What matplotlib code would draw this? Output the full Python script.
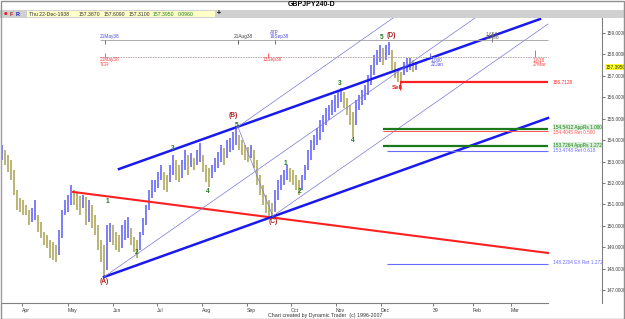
import numpy as np
import matplotlib
matplotlib.use("Agg")
import matplotlib.pyplot as plt
from matplotlib.patches import Rectangle

plt.rcParams["font.family"] = ["Liberation Sans", "DejaVu Sans"]
NARROW = ["Liberation Sans Narrow", "Liberation Sans", "DejaVu Sans"]

# price bars (slot position, high, low)
bar_x = [2, 5, 8, 11, 14, 17, 20, 23, 26, 29, 32, 35, 38, 41, 44, 47, 50, 53, 56, 59,
         62, 65, 68, 71, 74, 77, 80, 83, 86, 89, 92, 95, 98, 101, 104, 107, 110, 113, 116, 119,
         122, 125, 128, 131, 134, 137, 140, 143, 146, 149, 152, 155, 158, 161, 164, 167, 170, 173, 176, 179,
         182, 185, 188, 191, 194, 197, 200, 203, 206, 209, 212, 215, 218, 221, 224, 227, 230, 233, 236, 239,
         242, 245, 248, 251, 254, 257, 260, 263, 266, 269, 272, 275, 278, 281, 284, 287, 290, 293, 296, 299,
         302, 305, 308, 311, 314, 317, 320, 323, 326, 329, 332, 335, 338, 341, 344, 347, 350, 353, 356, 359,
         362, 365, 368, 371, 374, 377, 380, 383, 386, 389, 392, 395, 398, 401, 404, 407, 410, 413, 416]
bar_hi = [153.77, 153.54, 153.30, 153.07, 152.60, 151.67, 151.30, 151.20, 150.97, 150.74, 150.83, 151.20, 150.50, 150.18, 149.71, 149.57, 149.34, 149.24, 149.10, 149.80,
          150.74, 151.20, 151.44, 151.90, 151.67, 151.53, 151.39, 151.44, 151.34, 151.20, 150.97, 150.50, 150.04, 149.34, 149.10, 150.04, 150.13, 150.04, 149.71, 149.57,
          150.04, 150.27, 150.41, 149.90, 149.48, 149.34, 149.71, 150.36, 150.97, 151.67, 152.14, 152.14, 152.51, 152.84, 152.51, 152.37, 152.84, 153.30, 153.07, 152.84,
          153.07, 153.54, 153.30, 153.40, 153.16, 153.54, 153.86, 153.30, 152.84, 152.70, 152.84, 153.16, 153.44, 153.77, 153.63, 154.00, 154.10, 154.38, 154.61, 154.24,
          154.00, 153.77, 153.68, 153.77, 153.54, 153.07, 152.37, 151.90, 151.44, 151.20, 151.06, 151.67, 152.14, 152.37, 152.60, 152.84, 152.70, 152.60, 152.37, 152.14,
          152.37, 152.84, 153.54, 154.00, 154.24, 154.56, 154.94, 155.17, 155.50, 155.64, 155.87, 156.11, 156.34, 156.43, 156.25, 155.97, 155.64, 155.31, 155.87, 156.11,
          156.34, 156.57, 157.04, 157.51, 157.97, 158.21, 158.44, 158.30, 158.44, 158.58, 158.21, 157.65, 157.27, 157.18, 157.65, 157.83, 157.83, 157.74, 157.65]
bar_lo = [153.07, 152.84, 152.51, 152.14, 151.44, 150.74, 150.64, 150.50, 150.50, 150.04, 150.18, 150.27, 149.71, 149.43, 149.10, 148.96, 148.49, 148.40, 148.31, 148.63,
          149.43, 150.50, 150.64, 150.97, 150.97, 150.74, 150.50, 150.83, 150.04, 150.18, 149.90, 149.57, 148.87, 148.31, 147.61, 147.93, 149.24, 149.10, 148.87, 148.77,
          148.96, 149.34, 149.43, 149.10, 148.77, 148.49, 148.87, 149.57, 150.04, 150.74, 151.30, 151.58, 151.76, 152.14, 151.67, 151.58, 152.04, 152.37, 152.14, 152.04,
          152.23, 152.60, 152.37, 152.74, 152.60, 152.84, 152.98, 152.51, 152.04, 151.81, 152.23, 152.51, 152.70, 152.98, 152.84, 153.16, 153.44, 153.54, 153.77, 153.54,
          153.30, 153.07, 152.98, 153.16, 152.70, 151.90, 151.44, 150.97, 150.60, 150.46, 150.46, 150.64, 151.20, 151.67, 151.90, 152.14, 152.04, 151.90, 151.67, 151.44,
          151.67, 152.14, 152.60, 153.07, 153.54, 153.77, 154.00, 154.38, 154.70, 154.94, 155.17, 155.31, 155.50, 155.78, 155.50, 155.17, 154.70, 154.14, 154.70, 155.40,
          155.64, 155.87, 156.11, 156.57, 157.04, 157.51, 157.65, 157.51, 157.74, 157.97, 157.27, 156.90, 156.71, 156.62, 157.04, 157.18, 157.27, 157.18, 157.27]

# trend lines (x0, y0, x1, y1)
red_trend = [73, 151.58, 548, 148.73]
blue_lower = [104, 147.61, 548, 155.03]
blue_upper = [119, 152.65, 540, 159.65]
channel_lines = [[104, 147.61, 475, 159.70],
                 [236, 154.56, 393, 159.70],
                 [273, 150.46, 548, 159.42],
                 [238, 154.61, 273, 150.41]]

# horizontal price levels
levels = [156.7128, 154.5412, 154.4045, 153.7264, 153.4748, 148.2204]
level_start = [400, 383, 383, 383, 387, 387]
level_labels = ["156.7128", "154.5412 AppRs 1.000", "154.4045 Ret 0.500",
                "153.7264 AppRs 1.272", "153.4748 Ret 0.618", "148.2204 EX Ret 1.272"]
level_colors = ["#ff2020", "#1a7a1a", "#ff5050", "#1a7a1a", "#6a6aff", "#6a6aff"]
level_widths = [1.6, 1.6, 0.7, 1.6, 0.8, 0.8]
label_row = [82, 127, 132.5, 145, 150.5, 263]

# wave counts (x, price, text, colour)
wave_x = [104, 107, 137, 173, 208, 237, 233, 285, 300, 273, 340, 353, 382, 391]
wave_y = [147.38, 151.12, 148.73, 153.63, 151.58, 154.66, 155.17, 152.93, 151.58, 150.18, 156.66, 154.00, 158.81, 158.90]
wave_txt = ["(A)", "1", "2", "3", "4", "5", "(B)", "1", "2", "(C)", "3", "4", "5", "(D)"]
wave_col = ["#b02020", "#1f7a1f", "#1f7a1f", "#1f7a1f", "#1f7a1f", "#1f7a1f", "#b02020",
            "#1f7a1f", "#1f7a1f", "#b02020", "#1f7a1f", "#1f7a1f", "#1f7a1f", "#b02020"]

price_ticks = [147, 148, 149, 150, 151, 152, 153, 154, 155, 156, 157, 158, 159]
month_x = [22, 68, 113, 157, 202, 247, 291, 336, 381, 433, 473, 511]
month_lbl = ["Apr", "May", "Jun", "Jul", "Aug", "Sep", "Oct", "Nov", "Dec", "39", "Feb", "Mar"]
last_price = 157.395


def yp(py):
    # pixel row -> price, only for placing annotations
    return 159 - (py - 33) / 21.42


W, H = 625, 319
fig = plt.figure(figsize=(W / 100, H / 100), dpi=100)
ax = fig.add_axes([2 / W, 1 - 303 / H, 600 / W, 285 / H])
ax.set_xlim(2, 602)
ax.set_ylim(yp(303), yp(18))

for s in ["top", "bottom", "left"]:
    ax.spines[s].set_visible(False)
ax.spines["right"].set_color("#808080")
ax.spines["right"].set_linewidth(0.8)

# bars
mid = [(h + l) / 2 for h, l in zip(bar_hi, bar_lo)]
cols = ["#5a5af5"] + ["#5a5af5" if mid[i] >= mid[i - 1] else "#a8a050" for i in range(1, len(mid))]
ax.vlines(bar_x, bar_lo, bar_hi, colors=cols, lw=1.1)

# lines
ax.plot(red_trend[0::2], red_trend[1::2], color="#ff2020", lw=1.5)
ax.plot(blue_lower[0::2], blue_lower[1::2], color="#1a1aee", lw=1.8)
ax.plot(blue_upper[0::2], blue_upper[1::2], color="#1a1aee", lw=1.8)
for ln in channel_lines:
    ax.plot(ln[0::2], ln[1::2], color="#7878d8", lw=0.5)

for lv, x0, lab, c, w, r in zip(levels, level_start, level_labels, level_colors, level_widths, label_row):
    ax.hlines(lv, x0, 548, colors=c, lw=w)
    kw = {}
    if "AppRs" in lab:
        kw["bbox"] = dict(facecolor="#d8f0d8", edgecolor="none", pad=0.1)
    ax.text(553, yp(r), lab, color=c, fontsize=3.4, va="center", ha="left", family=NARROW, **kw)

# sell marker
ax.vlines(400, yp(90), yp(82), colors="#ff2020", lw=0.8)
ax.text(397, yp(87), "Sell", color="#e02020", fontsize=4.5, fontweight="bold", ha="center", va="center")

for x, y, t, c in zip(wave_x, wave_y, wave_txt, wave_col):
    ax.text(x, y, t, color=c, fontsize=4.8, fontweight="bold", ha="center", va="center")

# time projection rows
ax.hlines(yp(40), 100, 548, colors="#a0a0a0", lw=0.6)
ax.hlines(yp(57), 100, 548, colors="#b0a0a0", lw=0.6, linestyles=(0, (2, 1)))
for x, c in [(105, "#5050e0"), (238, "#404040"), (275, "#5050e0")]:
    ax.vlines(x, yp(44), yp(40), colors=c, lw=0.6)
tkw = dict(fontsize=3.4, ha="left", va="center", family=NARROW)
ax.text(100, yp(36), "21May38", color="#5050e0", **tkw)
ax.text(234, yp(36), "21Aug38", color="#404040", **tkw)
ax.text(270, yp(32), "ATP", color="#5050e0", **tkw)
ax.text(270, yp(36), "16Sep38", color="#5050e0", **tkw)
ax.vlines(492, yp(42), yp(32), colors="#707070", lw=0.6)
ax.text(486, yp(34), "1.618", color="#606060", **tkw)
ax.text(486, yp(37.5), "22Feb", color="#606060", **tkw)
for x in [105, 268]:
    ax.vlines(x, yp(57), yp(53), colors="#ff4040", lw=0.6)
ax.text(100, yp(60), "21May38", color="#ff4040", **tkw)
ax.text(100, yp(64), "TCR", color="#ff4040", **tkw)
ax.text(263, yp(60), "13Sep38", color="#ff4040", **tkw)
ax.vlines(430, yp(57), yp(53), colors="#5050e0", lw=0.6)
ax.text(431, yp(61), "1.000", color="#5050e0", **tkw)
ax.text(431, yp(64.5), "22Jan", color="#5050e0", **tkw)
ax.vlines(535, yp(57), yp(50), colors="#ff4040", lw=0.6)
ax.text(533, yp(61), "1.618", color="#ff4040", **tkw)
ax.text(533, yp(64.5), "27Mar", color="#ff4040", **tkw)

# axes ticks
ax.yaxis.tick_right()
ax.set_yticks(price_ticks)
ax.set_yticklabels(["%.4f" % p for p in price_ticks], family=NARROW)
ax.tick_params(axis="y", labelsize=3.4, length=2, width=0.5, pad=1, colors="#404040")
ax.set_xticks(month_x)
ax.set_xticklabels(month_lbl, ha="left", family=NARROW)
ax.tick_params(axis="x", labelsize=3.7, length=2.5, width=0.5, pad=1, colors="#404040")
ax.plot([2, 548], [yp(303), yp(303)], color="#808080", lw=0.8, clip_on=False)

ax.text(605.5, last_price, "157.3950", fontsize=3.4, ha="left", va="center", color="#303000",
        family=NARROW, bbox=dict(facecolor="#ffff30", edgecolor="none", pad=0.3), clip_on=False)

# header
fig.patches.append(Rectangle((0, 1 - 18 / H), 1, 8 / H, transform=fig.transFigure,
                             facecolor="#d0d0d0", edgecolor="none"))
fig.patches.append(Rectangle((27 / W, 1 - 17 / H), 188 / W, 6 / H, transform=fig.transFigure,
                             facecolor="#ffffc8", edgecolor="none"))
fig.text(312 / W, 1 - 5 / H, "GBPJPY240-D", fontsize=5, fontweight="bold", ha="center", va="center")
fig.text(4 / W, 1 - 14 / H, "\u25cf", fontsize=3, color="#e02020", va="center", family="DejaVu Sans")
fig.text(10 / W, 1 - 14 / H, "F", fontsize=4, color="#c02020", fontweight="bold", va="center")
fig.text(16 / W, 1 - 14 / H, "R", fontsize=4, color="#2020c0", fontweight="bold", va="center")
hdr = [(29, "Thu 22-Dec-1938", "#303030"), (79, "157.3870", "#303030"), (104, "157.6090", "#303030"),
       (129, "157.3100", "#303030"), (153, "157.3950", "#208020"), (178, "0.0960", "#208020")]
for x, t, c in hdr:
    fig.text(x / W, 1 - 14 / H, t, fontsize=3.7, color=c, va="center", family=NARROW)
fig.text(217 / W, 1 - 14 / H, "+", fontsize=5, fontweight="bold", va="center")

fig.text(325 / W, 1 - 315 / H, "Chart created by Dynamic Trader  (c) 1996-2007", fontsize=3.8,
         ha="center", va="center", color="#303030", family=NARROW)
fig.patches.append(Rectangle((0.5 / W, 0.5 / H), 1 - 1.5 / W, 1 - 1.5 / H, transform=fig.transFigure,
                             facecolor="none", edgecolor="#909090", lw=1))
fig.patches.append(Rectangle((1 / W, 1 - 303 / H), 1 / W, 285 / H, transform=fig.transFigure,
                             facecolor="#a0a0a0", edgecolor="none"))

fig.savefig("out.png", dpi=100)
